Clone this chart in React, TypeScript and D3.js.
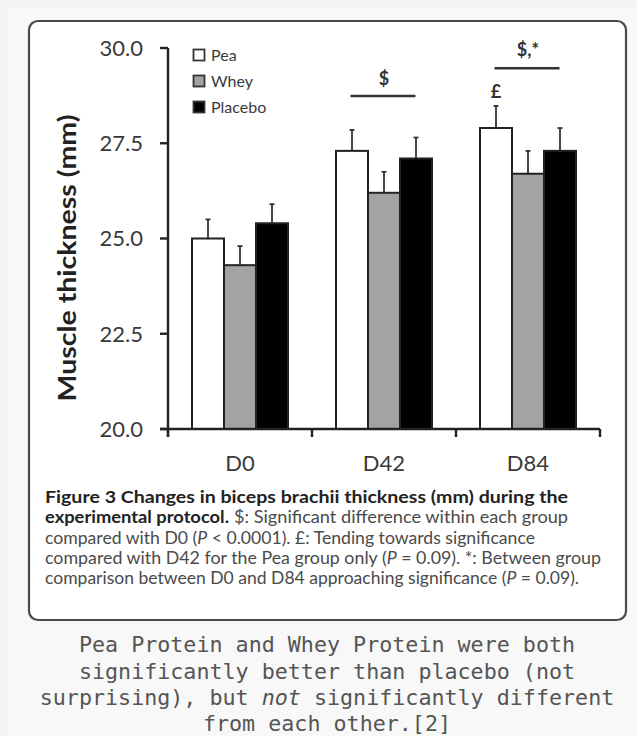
import React from "react";
import * as d3 from "d3";

const categories = ["D0", "D42", "D84"];
const seriesNames = ["Pea", "Whey", "Placebo"];
const peaMeans = [25.0, 27.3, 27.9];
const wheyMeans = [24.3, 26.2, 26.7];
const placeboMeans = [25.4, 27.1, 27.3];
const peaErr = [0.5, 0.55, 0.58];
const wheyErr = [0.5, 0.55, 0.6];
const placeboErr = [0.5, 0.55, 0.6];
const yTicks = [20, 22.5, 25, 27.5, 30];
const bracketCats = ["D42", "D84"];
const bracketLabels = ["$", "$,*"];
const bracketLineValues = [28.74, 29.47];
const bracketLabelValues = [29.2, 29.95];
const markCat = "D84";
const markSeries = "Pea";
const markLabel = "£";
const markValue = 28.87;

const fills: Record<string, string> = { Pea: "#ffffff", Whey: "#a3a3a3", Placebo: "#000000" };
const seriesData: Record<string, { m: number[]; e: number[] }> = {
  Pea: { m: peaMeans, e: peaErr },
  Whey: { m: wheyMeans, e: wheyErr },
  Placebo: { m: placeboMeans, e: placeboErr },
};

const W = 637;
const H = 736;
const chartFont = "Lato, 'Open Sans', sans-serif";

export default function App() {
  const y = d3.scaleLinear().domain([20, 30]).range([429, 48]);
  const x0 = d3.scaleBand<string>().domain(categories).range([168, 600]).paddingInner(0).paddingOuter(0);
  const bw = x0.bandwidth();
  const groupW = 96;
  const x1 = d3.scaleBand<string>().domain(seriesNames).range([(bw - groupW) / 2, (bw + groupW) / 2]);
  const barW = x1.bandwidth();
  const axisColor = "#222";
  const textColor = "#3a3a3a";
  const boundaries = [...categories.map((c) => x0(c) as number), 600];

  return (
    <div style={{ position: "absolute", left: 0, top: 0 }}>
      <svg width={W} height={H} style={{ display: "block" }}>
        <rect x={0} y={0} width={W} height={H} fill="#f4f4f4" />
        <rect x={7} y={8} width={W - 7} height={H - 8} fill="#f8f8f8" />
        <rect x={29} y={21} width={597} height={599} rx={9} fill="#ffffff" stroke="#4a4a4a" strokeWidth={2.2} />

        {/* bars */}
        {seriesNames.map((s) =>
          categories.map((c, i) => {
            const v = seriesData[s].m[i];
            const e = seriesData[s].e[i];
            const bx = (x0(c) as number) + (x1(s) as number);
            const cx = bx + barW / 2;
            return (
              <g key={s + c}>
                <line x1={cx} x2={cx} y1={y(v)} y2={y(v + e)} stroke="#333" strokeWidth={1.8} />
                <line x1={cx - 2.5} x2={cx + 2.5} y1={y(v + e)} y2={y(v + e)} stroke="#333" strokeWidth={1.8} />
                <rect x={bx} y={y(v)} width={barW} height={y(20) - y(v)} fill={fills[s]} stroke="#222" strokeWidth={2} />
              </g>
            );
          })
        )}

        {/* y axis */}
        <line x1={168} x2={168} y1={y(30)} y2={y(20) + 8} stroke={axisColor} strokeWidth={2.4} />
        {yTicks.map((t) => (
          <g key={t}>
            <line x1={160} x2={168} y1={y(t)} y2={y(t)} stroke={axisColor} strokeWidth={2.4} />
            <text x={143} y={y(t)} dy="0.36em" textAnchor="end" fontFamily={chartFont} fontSize={22} fill={textColor}>
              {d3.format(".1f")(t)}
            </text>
          </g>
        ))}
        {/* x axis */}
        <line x1={160} x2={600} y1={y(20)} y2={y(20)} stroke={axisColor} strokeWidth={2.4} />
        {boundaries.map((bx, i) => (
          <line key={i} x1={bx} x2={bx} y1={y(20)} y2={y(20) + 8} stroke={axisColor} strokeWidth={2.4} />
        ))}
        {categories.map((c) => (
          <text key={c} x={(x0(c) as number) + bw / 2} y={471} textAnchor="middle" fontFamily={chartFont} fontSize={22} fill={textColor}>
            {c}
          </text>
        ))}
        <text
          transform="translate(76,258) rotate(-90)"
          textAnchor="middle"
          fontFamily={chartFont}
          fontWeight="bold"
          fontSize={24}
          fill="#222"
          textLength={287}
          lengthAdjust="spacingAndGlyphs"
        >
          Muscle thickness (mm)
        </text>

        {/* legend */}
        {seriesNames.map((s, i) => (
          <g key={s} transform={`translate(193, ${55 + i * 26})`}>
            <rect x={0.5} y={-5.5} width={11} height={11} fill={fills[s]} stroke="#333" strokeWidth={1.8} />
            <text x={18} y={0} dy="0.36em" fontFamily={chartFont} fontSize={16} fill={textColor}>
              {s}
            </text>
          </g>
        ))}

        {/* significance brackets */}
        {bracketCats.map((c, i) => {
          const cx = (x0(c) as number) + bw / 2;
          return (
            <g key={c}>
              <line x1={cx - 33.5} x2={cx + 31.5} y1={y(bracketLineValues[i])} y2={y(bracketLineValues[i])} stroke="#333" strokeWidth={2.4} />
              <text x={cx} y={y(bracketLabelValues[i])} dy="0.36em" textAnchor="middle" fontFamily={chartFont} fontWeight="bold" fontSize={18} fill="#333">
                {bracketLabels[i]}
              </text>
            </g>
          );
        })}
        <text
          x={(x0(markCat) as number) + (x1(markSeries) as number) + barW / 2}
          y={y(markValue)}
          dy="0.36em"
          textAnchor="middle"
          fontFamily={chartFont}
          fontWeight="bold"
          fontSize={18}
          fill="#333"
        >
          {markLabel}
        </text>

        {/* figure caption */}
        <g fontFamily={chartFont} fontSize={17}>
          <text x={45} y={503} fontWeight="bold" fill="#222" textLength={523} lengthAdjust="spacingAndGlyphs">
            Figure 3 Changes in biceps brachii thickness (mm) during the
          </text>
          <text x={45} y={523} fontWeight="bold" fill="#222" textLength={184} lengthAdjust="spacingAndGlyphs">
            experimental protocol.
          </text>
          <text x={234} y={523} fill="#4a4a4a" textLength={334} lengthAdjust="spacingAndGlyphs">
            $: Significant difference within each group
          </text>
          <text x={45} y={544} fill="#4a4a4a" textLength={490} lengthAdjust="spacingAndGlyphs">
            compared with D0 (<tspan fontStyle="italic">P</tspan> {"<"} 0.0001). £: Tending towards significance
          </text>
          <text x={45} y={564} fill="#4a4a4a" textLength={556} lengthAdjust="spacingAndGlyphs">
            compared with D42 for the Pea group only (<tspan fontStyle="italic">P</tspan> = 0.09). *: Between group
          </text>
          <text x={45} y={584} fill="#4a4a4a" textLength={534} lengthAdjust="spacingAndGlyphs">
            comparison between D0 and D84 approaching significance (<tspan fontStyle="italic">P</tspan> = 0.09).
          </text>
        </g>

        {/* bottom note */}
        <g fontFamily="'DejaVu Sans Mono', monospace" fontSize={21.7} fill="#555" textAnchor="middle">
          <text x={327} y={652}>Pea Protein and Whey Protein were both</text>
          <text x={327} y={679}>significantly better than placebo (not</text>
          <text x={327} y={705}>
            surprising), but <tspan fontStyle="italic">not</tspan> significantly different
          </text>
          <text x={327} y={731}>from each other.[2]</text>
        </g>
      </svg>
    </div>
  );
}
